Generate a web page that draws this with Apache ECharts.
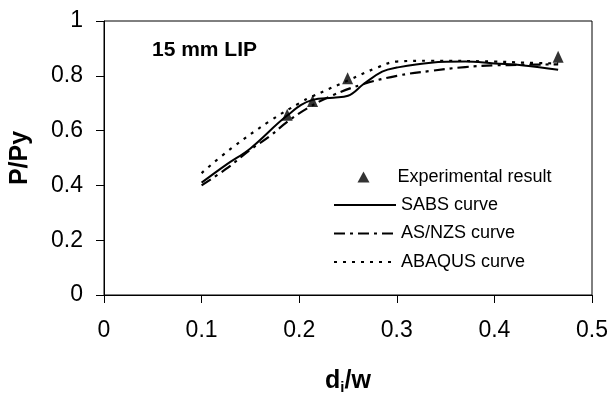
<!DOCTYPE html>
<html>
<head>
<meta charset="utf-8">
<script src="https://cdn.jsdelivr.net/npm/echarts@6/dist/echarts.min.js"></script>
<style>
  html, body { margin: 0; padding: 0; background: #fff; }
  #chart { width: 613px; height: 400px; }
</style>
</head>
<body>
<div id="chart"></div>
<script>
// experimental points
var exp_x = [0.1877, 0.2137, 0.2496, 0.4653];
var exp_y = [0.658, 0.708, 0.791, 0.8695];

// SABS curve (solid)
var sabs_x = [0.1, 0.125, 0.15, 0.1877, 0.2137, 0.235, 0.25, 0.266, 0.285, 0.3, 0.335, 0.37, 0.4, 0.43, 0.4653];
var sabs_y = [0.41, 0.475, 0.535, 0.655, 0.712, 0.72, 0.727, 0.77, 0.815, 0.83, 0.848, 0.852, 0.845, 0.838, 0.822];

// AS/NZS curve (dash dot)
var asnzs_x = [0.1, 0.125, 0.15, 0.17, 0.1877, 0.21, 0.235, 0.266, 0.3, 0.335, 0.37, 0.4, 0.43, 0.4653];
var asnzs_y = [0.4, 0.46, 0.53, 0.58, 0.632, 0.685, 0.73, 0.77, 0.8, 0.818, 0.832, 0.838, 0.84, 0.842];

// ABAQUS curve (dotted)
var abaqus_x = [0.1, 0.13, 0.17, 0.2, 0.2137, 0.25, 0.28, 0.3, 0.335, 0.4, 0.43, 0.4653];
var abaqus_y = [0.445, 0.534, 0.635, 0.7, 0.725, 0.783, 0.83, 0.852, 0.855, 0.852, 0.848, 0.845];

var x_ticks = [0, 0.1, 0.2, 0.3, 0.4, 0.5];
var y_ticks = [0, 0.2, 0.4, 0.6, 0.8, 1];

var point_legend = ['Experimental result'];
var line_legend = ['SABS curve', 'AS/NZS curve', 'ABAQUS curve'];

function pairs(xs, ys) {
    var res = [];
    for (var i = 0; i < xs.length; i++) {
        res.push([xs[i], ys[i]]);
    }
    return res;
}

function tickLabel(list) {
    return function (v) {
        for (var i = 0; i < list.length; i++) {
            if (Math.abs(list[i] - v) < 1e-9) return String(list[i]);
        }
        return '';
    };
}

var font = "'Liberation Sans', Arial, sans-serif";
var legendText = { fontFamily: font, fontSize: 18, lineHeight: 18, color: '#000' };

var chart = echarts.init(document.getElementById('chart'));

// line legend items: hide the symbol, keep only the stroke
var lineLegendData = line_legend.map(function (n) {
    return { name: n, itemStyle: { opacity: 0 } };
});

var option = {
    animation: false,
    backgroundColor: '#fff',
    textStyle: { fontFamily: font, color: '#000' },
    title: {
        text: '15 mm LIP',
        left: 147,
        top: 35,
        textStyle: { fontFamily: font, fontSize: 21, fontWeight: 'bold', color: '#000' }
    },
    legend: [
        {
            orient: 'vertical',
            left: 352.5,
            top: 163,
            itemWidth: 12,
            itemHeight: 11,
            icon: 'triangle',
            textStyle: Object.assign({ padding: [0, 0, 0, 23] }, legendText),
            data: point_legend
        },
        {
            orient: 'vertical',
            left: 328,
            top: 191,
            itemWidth: 62,
            itemHeight: 12,
            itemGap: 10.5,
            textStyle: legendText,
            data: lineLegendData
        }
    ],
    grid: {
        left: 102,
        top: 21,
        width: 490,
        height: 281,
        show: true,
        borderColor: '#000',
        borderWidth: 1,
        containLabel: false
    },
    xAxis: {
        type: 'value',
        min: 0,
        max: 0.5,
        interval: 0.1,
        name: '{a|d}{b|i}{a|/w}',
        nameLocation: 'middle',
        nameGap: 73,
        nameTextStyle: {
            rich: {
                a: { fontFamily: font, fontSize: 25, fontWeight: 'bold', color: '#000' },
                b: { fontFamily: font, fontSize: 15, fontWeight: 'bold', color: '#000', verticalAlign: 'bottom', padding: [12, 0, 0, 0] }
            }
        },
        axisLine: { onZero: false, lineStyle: { color: '#000', width: 1 } },
        axisTick: { show: true, inside: false, length: 8, lineStyle: { color: '#000' } },
        axisLabel: {
            margin: 24,
            fontFamily: font,
            fontSize: 23,
            color: '#000',
            formatter: tickLabel(x_ticks)
        },
        splitLine: { show: false }
    },
    yAxis: {
        type: 'value',
        min: 0,
        max: 1,
        interval: 0.2,
        name: 'P/Py',
        nameLocation: 'middle',
        nameRotate: 90,
        nameGap: 71,
        nameTextStyle: { fontFamily: font, fontSize: 25, fontWeight: 'bold', color: '#000' },
        axisLine: { show: true, onZero: false, lineStyle: { color: '#000', width: 1 } },
        axisTick: { show: true, inside: false, length: 8, lineStyle: { color: '#000' } },
        axisLabel: {
            margin: 21,
            fontFamily: font,
            fontSize: 23,
            color: '#000',
            formatter: tickLabel(y_ticks)
        },
        splitLine: { show: false }
    },
    series: [
        {
            name: 'Experimental result',
            type: 'scatter',
            symbol: 'triangle',
            symbolSize: [11, 12],
            itemStyle: { color: '#000' },
            data: pairs(exp_x, exp_y),
            z: 5
        },
        {
            name: 'SABS curve',
            type: 'line',
            smooth: 0.4,
            symbol: 'none',
            lineStyle: { color: '#000', width: 2, type: 'solid' },
            itemStyle: { color: '#000' },
            data: pairs(sabs_x, sabs_y)
        },
        {
            name: 'AS/NZS curve',
            type: 'line',
            smooth: 0.4,
            symbol: 'none',
            lineStyle: { color: '#000', width: 2.2, type: [11, 5, 3, 5] },
            itemStyle: { color: '#000' },
            data: pairs(asnzs_x, asnzs_y)
        },
        {
            name: 'ABAQUS curve',
            type: 'line',
            smooth: 0.4,
            symbol: 'none',
            lineStyle: { color: '#000', width: 2.2, type: [3, 6] },
            itemStyle: { color: '#000' },
            data: pairs(abaqus_x, abaqus_y)
        }
    ]
};

chart.setOption(option);
</script>
</body>
</html>
